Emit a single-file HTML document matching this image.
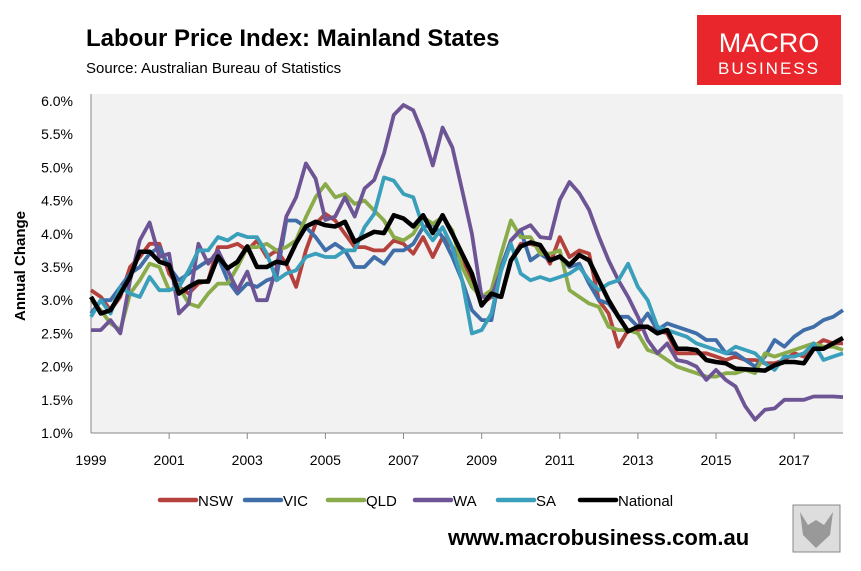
<!DOCTYPE html>
<html><head><meta charset="utf-8"><style>
body{margin:0;background:#fff;width:861px;height:566px;overflow:hidden;font-family:"Liberation Sans",sans-serif}
</style></head><body>
<svg width="861" height="566" xmlns="http://www.w3.org/2000/svg">
<text x="86" y="46" font-size="24" font-weight="bold" fill="#000">Labour Price Index: Mainland States</text>
<text x="86" y="73" font-size="15" fill="#000">Source: Australian Bureau of Statistics</text>
<g>
<rect x="697" y="15" width="144" height="70" fill="#e8262b"/>
<text x="769" y="52" font-size="27" fill="#fff" text-anchor="middle">MACRO</text>
<text x="769" y="74" font-size="17" fill="#fff" text-anchor="middle" letter-spacing="2">BUSINESS</text>
</g>
<rect x="91" y="94" width="752" height="339" fill="#f2f2f2"/>
<g id="axes"></g>
<g id="series"></g>
<text transform="translate(25,266) rotate(-90)" font-size="15" font-weight="bold" text-anchor="middle">Annual Change</text>
<g id="legend"></g>
<text x="448" y="545" font-size="22" font-weight="bold">www.macrobusiness.com.au</text>
<g>
<rect x="793" y="505" width="47" height="47" fill="#ddd" stroke="#888"/>
<path d="M800 512 L808 525 L816 520 L824 525 L833 512 L830 535 L816 548 L803 535 Z" fill="#999"/>
</g>
</svg>
<script>
const yTicks=[1.0,1.5,2.0,2.5,3.0,3.5,4.0,4.5,5.0,5.5,6.0];
const xYears=[1999,2001,2003,2005,2007,2009,2011,2013,2015,2017];
const seriesNames=["NSW","VIC","QLD","WA","SA","National"];
const seriesColors=["#b5413d","#3f6ea9","#8aab4a","#6d5595","#3a9fba","#000"];
const nsw=[3.15,3.05,2.85,3.05,3.5,3.65,3.85,3.85,3.4,3.2,3.1,3.25,3.3,3.8,3.8,3.85,3.75,3.9,3.65,3.75,3.55,3.2,3.75,4.15,4.3,4.2,4.0,3.8,3.8,3.75,3.75,3.9,3.85,3.7,3.95,3.65,3.95,3.8,3.6,3.3,2.95,3.05,3.05,3.6,3.85,3.85,3.8,3.55,3.95,3.65,3.75,3.7,3.0,2.8,2.3,2.55,2.55,2.6,2.55,2.5,2.2,2.2,2.2,2.2,2.15,2.1,2.15,2.1,2.1,2.05,2.05,2.1,2.2,2.15,2.3,2.4,2.35,2.35];
const vic=[2.8,3.0,3.0,3.2,3.4,3.5,3.7,3.8,3.5,3.3,3.4,3.5,3.6,3.65,3.3,3.1,3.25,3.2,3.3,3.35,4.2,4.2,4.1,3.95,3.75,3.85,3.75,3.5,3.5,3.65,3.55,3.75,3.75,3.85,4.1,4.15,3.95,3.65,3.3,2.85,2.7,2.7,3.5,3.9,4.05,3.6,3.7,3.6,3.65,3.5,3.55,3.25,3.0,2.95,2.75,2.75,2.6,2.8,2.55,2.65,2.6,2.55,2.5,2.4,2.4,2.2,2.2,2.1,2.0,2.15,2.4,2.3,2.45,2.55,2.6,2.7,2.75,2.85];
const qld=[3.0,2.85,2.65,2.55,3.1,3.3,3.55,3.5,3.15,3.2,2.95,2.9,3.1,3.25,3.25,3.5,3.8,3.8,3.85,3.75,3.8,3.9,4.25,4.55,4.75,4.55,4.6,4.45,4.5,4.35,4.2,3.95,3.9,4.0,4.25,4.15,4.25,4.05,3.5,3.2,3.05,3.15,3.7,4.2,3.95,3.95,3.7,3.7,3.75,3.15,3.05,2.95,2.9,2.6,2.55,2.55,2.5,2.25,2.2,2.1,2.0,1.95,1.9,1.85,1.85,1.9,1.9,1.95,1.9,2.2,2.15,2.2,2.25,2.3,2.35,2.3,2.3,2.25];
const wa=[2.55,2.55,2.7,2.5,3.3,3.9,4.17,3.65,3.7,2.8,2.95,3.85,3.55,3.75,3.45,3.15,3.43,3.0,3.0,3.5,4.26,4.55,5.06,4.83,4.21,4.26,4.55,4.26,4.68,4.81,5.21,5.79,5.94,5.86,5.5,5.03,5.6,5.3,4.66,4.0,3.05,3.05,3.45,3.9,4.06,4.13,3.95,3.93,4.51,4.78,4.61,4.36,3.96,3.6,3.3,3.05,2.75,2.4,2.2,2.35,2.1,2.07,2.0,1.8,1.95,1.8,1.7,1.4,1.2,1.35,1.37,1.5,1.5,1.5,1.55,1.55,1.55,1.54];
const sa=[2.75,3.0,2.8,3.2,3.1,3.05,3.35,3.15,3.15,3.2,3.45,3.75,3.75,3.95,3.9,4.0,3.95,3.95,3.7,3.3,3.4,3.45,3.65,3.7,3.65,3.65,3.75,3.75,4.1,4.3,4.85,4.8,4.6,4.55,4.1,3.9,4.1,3.8,3.3,2.5,2.55,2.8,3.45,3.85,3.4,3.3,3.35,3.3,3.35,3.4,3.5,3.3,3.15,3.25,3.3,3.55,3.2,3.0,2.6,2.55,2.5,2.45,2.35,2.3,2.25,2.2,2.3,2.25,2.2,2.05,1.95,2.15,2.15,2.2,2.35,2.1,2.15,2.2];
const national=[3.05,2.8,2.85,3.1,3.35,3.73,3.73,3.58,3.53,3.1,3.2,3.28,3.28,3.66,3.48,3.58,3.81,3.5,3.5,3.58,3.55,3.86,4.11,4.18,4.13,4.11,4.18,3.88,3.96,4.03,4.01,4.28,4.23,4.11,4.28,4.01,4.28,4.0,3.7,3.4,2.92,3.1,3.05,3.6,3.81,3.87,3.83,3.6,3.66,3.53,3.68,3.6,3.3,3.0,2.75,2.53,2.6,2.6,2.5,2.55,2.27,2.27,2.25,2.1,2.07,2.05,1.97,1.96,1.95,1.94,2.02,2.07,2.07,2.05,2.27,2.27,2.35,2.43];
const allSeries=[nsw,vic,qld,wa,sa,national];

const NS="http://www.w3.org/2000/svg";
const X0=91,X1=843,Y0=433,Y1=101,N=78;
const xq=i=>X0+i*(X1-X0)/(N-1);
const xYear=y=>X0+(y-1999)*(X1-X0)/((N-1)/4);
const yv=v=>Y0-(v-1)*(Y0-Y1)/5;
function mk(t,a,p){const e=document.createElementNS(NS,t);for(const k in a)e.setAttribute(k,a[k]);p.appendChild(e);return e;}
const axes=document.getElementById('axes');
mk('line',{x1:X0,y1:94,x2:X0,y2:Y0,stroke:'#888'},axes);
mk('line',{x1:X0,y1:Y0,x2:X1,y2:Y0,stroke:'#888'},axes);
yTicks.forEach(v=>{
  const t=mk('text',{x:73,y:yv(v)+5,'font-size':14,'text-anchor':'end'},axes);
  t.textContent=v.toFixed(1)+'%';
  
  
});
xYears.forEach(y=>{
  const x=xYear(y);
  if(y>1999) mk('line',{x1:x,y1:Y0,x2:x,y2:Y0+6,stroke:'#888'},axes);
  const t=mk('text',{x:x,y:465,'font-size':14,'text-anchor':'middle'},axes);
  t.textContent=y;
  
  
});
const sg=document.getElementById('series');
allSeries.forEach((s,k)=>{
  const d=s.map((v,i)=>(i?'L':'M')+xq(i).toFixed(1)+' '+yv(v).toFixed(1)).join(' ');
  const p=mk('path',{d:d,fill:'none',stroke:seriesColors[k],'stroke-width':k==5?4.5:3.8,'stroke-linejoin':'round'},sg);
  
  
});
const lg=document.getElementById('legend');
const lx=[160,245,328,415,498,580];
seriesNames.forEach((n,k)=>{
  const g=mk('g',{},lg);
  
  
  mk('line',{x1:lx[k],y1:500,x2:lx[k]+36,y2:500,stroke:seriesColors[k],'stroke-width':4.5,'stroke-linecap':'round'},g);
  const t=mk('text',{x:lx[k]+38,y:506,'font-size':15},g);
  t.textContent=n;
});
</script>
</body></html>
